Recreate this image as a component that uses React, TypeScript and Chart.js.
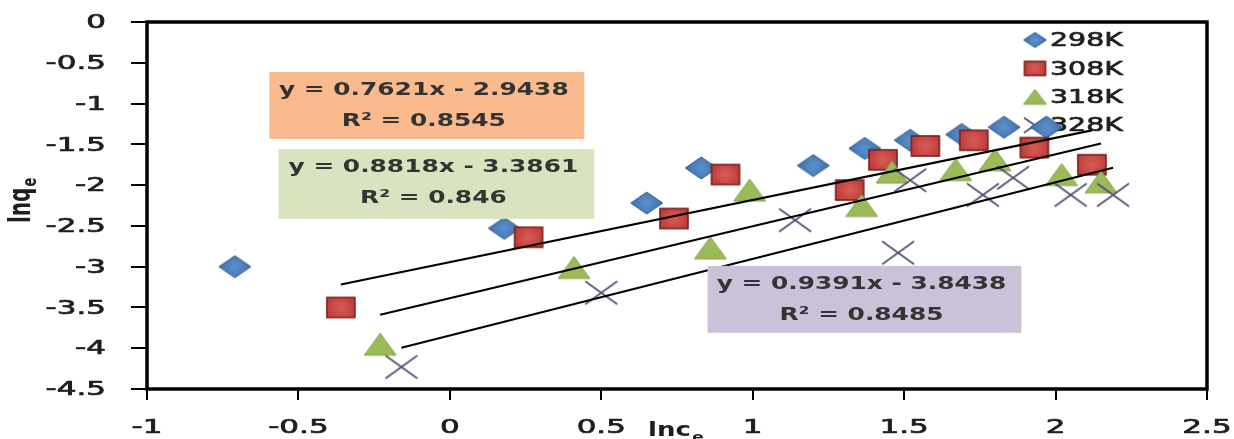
import React, { useEffect, useRef } from "react";
import { Chart, registerables } from "chart.js";

Chart.register(...registerables);

// ---------- data ----------
const seriesLabels = ["298K", "308K", "318K", "328K"];

const x298 = [-0.71, 0.18, 0.65, 0.83, 1.2, 1.37, 1.52, 1.69, 1.83, 1.97];
const y298 = [-3.0, -2.53, -2.22, -1.79, -1.76, -1.55, -1.45, -1.38, -1.29, -1.29];

const x308 = [-0.36, 0.26, 0.74, 0.91, 1.32, 1.43, 1.57, 1.73, 1.93, 2.12];
const y308 = [-3.5, -2.64, -2.41, -1.87, -2.06, -1.69, -1.52, -1.45, -1.54, -1.75];

const x318 = [-0.23, 0.41, 0.86, 0.99, 1.36, 1.46, 1.67, 1.8, 2.02, 2.15];
const y318 = [-3.95, -3.01, -2.77, -2.06, -2.25, -1.84, -1.81, -1.69, -1.87, -1.96];

const x328 = [-0.16, 0.5, 1.14, 1.48, 1.52, 1.76, 1.86, 2.05, 2.19];
const y328 = [-4.23, -3.32, -2.43, -2.83, -1.94, -2.12, -1.91, -2.12, -2.12];

// trendlines (from the equations shown on the chart)
const trendSlopes = [0.7621, 0.8818, 0.9391];
const trendIntercepts = [-2.9438, -3.3861, -3.8438];
const trendXStart = [-0.36, -0.23, -0.16];
const trendXEnd = [2.12, 2.15, 2.19];
const equationLabels = ["y = 0.7621x - 2.9438", "y = 0.8818x - 3.3861", "y = 0.9391x - 3.8438"];
const r2Labels = ["R\u00B2 = 0.8545", "R\u00B2 = 0.846", "R\u00B2 = 0.8485"];

// axes
const xTickValues = [-1, -0.5, 0, 0.5, 1, 1.5, 2, 2.5];
const xTickLabels = ["-1", "-0.5", "0", "0.5", "1", "1.5", "2", "2.5"];
const yTickValues = [0, -0.5, -1, -1.5, -2, -2.5, -3, -3.5, -4, -4.5];
const yTickLabels = ["0", "-0.5", "-1", "-1.5", "-2", "-2.5", "-3", "-3.5", "-4", "-4.5"];
const xTitle = "lnc";
const xTitleSub = "e";
const yTitle = "lnq";
const yTitleSub = "e";

// ---------- styles ----------
const FONT = "'DejaVu Sans', Verdana, sans-serif";
const TEXT_COLOR = "#1e1e1e";
const boxFills = ["#F9BA8E", "#D8E4BF", "#CBC2DA"];
// box rectangles in data coordinates [xLeft, xRight, yTop, yBottom]
const boxRects = [
  [-0.596, 0.444, -0.613, -1.434],
  [-0.566, 0.477, -1.556, -2.414],
  [0.851, 1.887, -2.99, -3.811],
];

type Kind = "diamond" | "square" | "triangle" | "cross";
const seriesKinds: Kind[] = ["diamond", "square", "triangle", "cross"];

function makeMarker(kind: Kind, w: number, h: number): HTMLCanvasElement {
  const c = document.createElement("canvas");
  c.width = Math.ceil(w + 4);
  c.height = Math.ceil(h + 4);
  const ctx = c.getContext("2d")!;
  ctx.translate(c.width / 2, c.height / 2);
  ctx.lineJoin = "miter";
  if (kind === "diamond") {
    ctx.beginPath();
    ctx.moveTo(0, -h / 2);
    ctx.lineTo(w / 2, 0);
    ctx.lineTo(0, h / 2);
    ctx.lineTo(-w / 2, 0);
    ctx.closePath();
    const g = ctx.createRadialGradient(0, 0, 1, 0, 0, w / 2);
    g.addColorStop(0, "#5B8FCB");
    g.addColorStop(1, "#3F6FAA");
    ctx.fillStyle = g;
    ctx.fill();
    ctx.strokeStyle = "#2F5C92";
    ctx.lineWidth = 1;
    ctx.stroke();
  } else if (kind === "square") {
    const g = ctx.createRadialGradient(0, 0, 1, 0, 0, w / 2);
    g.addColorStop(0, "#D95A55");
    g.addColorStop(1, "#BD3F3B");
    ctx.fillStyle = g;
    ctx.fillRect(-w / 2, -h / 2, w, h);
    ctx.strokeStyle = "#7E1E1B";
    ctx.lineWidth = 1.6;
    ctx.strokeRect(-w / 2, -h / 2, w, h);
  } else if (kind === "triangle") {
    ctx.beginPath();
    ctx.moveTo(0, -h / 2);
    ctx.lineTo(w / 2, h / 2);
    ctx.lineTo(-w / 2, h / 2);
    ctx.closePath();
    ctx.fillStyle = "#9BBB59";
    ctx.fill();
    ctx.strokeStyle = "#86A64A";
    ctx.lineWidth = 1;
    ctx.stroke();
  } else {
    ctx.beginPath();
    ctx.moveTo(-w / 2, -h / 2);
    ctx.lineTo(w / 2, h / 2);
    ctx.moveTo(w / 2, -h / 2);
    ctx.lineTo(-w / 2, h / 2);
    ctx.strokeStyle = "#4E4B73";
    ctx.lineWidth = 1.6;
    ctx.stroke();
  }
  return c;
}

const markerSizes: Record<Kind, [number, number]> = {
  diamond: [32, 22],
  square: [28, 20],
  triangle: [32, 22],
  cross: [32, 23],
};
const legendSizes: Record<Kind, [number, number]> = {
  diamond: [23, 15],
  square: [21, 14],
  triangle: [23, 15],
  cross: [22, 15],
};

function stretchedText(
  ctx: CanvasRenderingContext2D,
  text: string,
  x: number,
  y: number,
  align: CanvasTextAlign,
  sx: number,
  font: string,
  color: string,
  strokeW = 0
) {
  ctx.save();
  ctx.font = font;
  ctx.fillStyle = color;
  ctx.textAlign = align;
  ctx.textBaseline = "middle";
  ctx.translate(x, y);
  ctx.scale(sx, 1);
  ctx.fillText(text, 0, 0);
  if (strokeW > 0) {
    ctx.strokeStyle = color;
    ctx.lineWidth = strokeW;
    ctx.lineJoin = "round";
    ctx.strokeText(text, 0, 0);
  }
  ctx.restore();
}

export default function App() {
  const canvasRef = useRef<HTMLCanvasElement | null>(null);

  useEffect(() => {
    const canvas = canvasRef.current;
    if (!canvas) return;

    const xs = [x298, x308, x318, x328];
    const ys = [y298, y308, y318, y328];
    const markers = seriesKinds.map((k) => makeMarker(k, markerSizes[k][0], markerSizes[k][1]));
    const legendMarkers = seriesKinds.map((k) => makeMarker(k, legendSizes[k][0], legendSizes[k][1]));

    const scatterSets = seriesLabels.map((label, i) => ({
      label,
      data: xs[i].map((x, j) => ({ x, y: ys[i][j] })),
      pointStyle: markers[i] as any,
      pointRadius: 5,
      showLine: false,
      order: 4 - i,
    }));

    const trendSets = trendSlopes.map((m, i) => ({
      label: "trend" + i,
      data: [
        { x: trendXStart[i], y: m * trendXStart[i] + trendIntercepts[i] },
        { x: trendXEnd[i], y: m * trendXEnd[i] + trendIntercepts[i] },
      ],
      showLine: true,
      borderColor: "#000",
      borderWidth: 2.2,
      pointRadius: 0,
      order: 0,
    }));

    const decorPlugin = {
      id: "decor",
      beforeDatasetsDraw(chart: any) {
        const ctx: CanvasRenderingContext2D = chart.ctx;
        const a = chart.chartArea;
        // legend (drawn below data points)
        const lx = 1035;
        const ly0 = 40;
        const lstep = 28.4;
        seriesLabels.forEach((lab, i) => {
          const m = legendMarkers[i];
          const y = ly0 + i * lstep;
          ctx.drawImage(m, lx - m.width / 2, y - m.height / 2);
          stretchedText(ctx, lab, lx + 15, y + 1, "left", 1.42, `20px ${FONT}`, TEXT_COLOR, 0.7);
        });
        // frame
        ctx.save();
        ctx.strokeStyle = "#000";
        ctx.lineWidth = 3.5;
        ctx.strokeRect(a.left, a.top, a.right - a.left, a.bottom - a.top);
        ctx.restore();
      },
      afterDatasetsDraw(chart: any) {
        const ctx: CanvasRenderingContext2D = chart.ctx;
        const xs = chart.scales.x;
        const ys = chart.scales.y;
        // equation boxes
        boxRects.forEach((r, i) => {
          const l = xs.getPixelForValue(r[0]);
          const rr = xs.getPixelForValue(r[1]);
          const t = ys.getPixelForValue(r[2]);
          const b = ys.getPixelForValue(r[3]);
          ctx.save();
          ctx.fillStyle = boxFills[i];
          ctx.fillRect(l, t, rr - l, b - t);
          ctx.restore();
          const cx = (l + rr) / 2 - 3;
          stretchedText(ctx, equationLabels[i], cx, t + 18.5, "center", 1.38, `bold 18px ${FONT}`, "#333");
          stretchedText(ctx, r2Labels[i], cx, t + 49.5, "center", 1.38, `bold 18px ${FONT}`, "#333");
        });
        // y tick labels
        yTickValues.forEach((v, i) => {
          const py = ys.getPixelForValue(v);
          stretchedText(ctx, yTickLabels[i], 106, py + 1, "right", 1.55, `20px ${FONT}`, TEXT_COLOR, 0.7);
        });
        // x tick labels
        xTickValues.forEach((v, i) => {
          const px = xs.getPixelForValue(v);
          stretchedText(ctx, xTickLabels[i], px, 428, "center", 1.55, `20px ${FONT}`, TEXT_COLOR, 0.7);
        });
        // x title
        ctx.save();
        ctx.fillStyle = TEXT_COLOR;
        ctx.textBaseline = "alphabetic";
        ctx.textAlign = "left";
        ctx.translate(648, 436);
        ctx.scale(1.3, 1);
        ctx.font = `bold 20px ${FONT}`;
        ctx.fillText(xTitle, 0, 0);
        const wx = ctx.measureText(xTitle).width;
        ctx.font = `bold 13px ${FONT}`;
        ctx.fillText(xTitleSub, wx + 1, 5);
        ctx.restore();
        // y title
        ctx.save();
        ctx.fillStyle = TEXT_COLOR;
        ctx.textBaseline = "alphabetic";
        ctx.textAlign = "left";
        ctx.translate(30, 223);
        ctx.rotate(-Math.PI / 2);
        ctx.scale(1, 1.5);
        ctx.font = `bold 20px ${FONT}`;
        ctx.fillText(yTitle, 0, 0);
        const wy = ctx.measureText(yTitle).width;
        ctx.font = `bold 13px ${FONT}`;
        ctx.fillText(yTitleSub, wy + 1, 4);
        ctx.restore();
      },
    };

    const chart = new Chart(canvas, {
      type: "scatter",
      data: { datasets: [...scatterSets, ...trendSets] as any },
      options: {
        animation: false,
        responsive: true,
        maintainAspectRatio: false,
        layout: { padding: { top: 22, right: 27, left: 0, bottom: 0 } },
        plugins: {
          legend: { display: false },
          tooltip: { enabled: false },
        },
        scales: {
          x: {
            type: "linear",
            min: -1,
            max: 2.5,
            afterBuildTicks: (s: any) => {
              s.ticks = xTickValues.map((v) => ({ value: v }));
            },
            ticks: { display: false },
            grid: {
              drawOnChartArea: false,
              drawTicks: true,
              tickLength: 11,
              color: "#000",
              lineWidth: 2,
            },
            border: { display: false },
            afterFit: (s: any) => {
              s.height = 50;
            },
          },
          y: {
            type: "linear",
            min: -4.5,
            max: 0,
            afterBuildTicks: (s: any) => {
              s.ticks = yTickValues.map((v) => ({ value: v }));
            },
            ticks: { display: false },
            grid: {
              drawOnChartArea: false,
              drawTicks: true,
              tickLength: 16,
              color: "#000",
              lineWidth: 2,
            },
            border: { display: false },
            afterFit: (s: any) => {
              s.width = 147;
            },
          },
        },
      } as any,
      plugins: [decorPlugin],
    });

    return () => chart.destroy();
  }, []);

  return (
    <div style={{ position: "absolute", left: 0, top: 0, width: 1234, height: 439, background: "#fff" }}>
      <canvas ref={canvasRef} />
    </div>
  );
}
